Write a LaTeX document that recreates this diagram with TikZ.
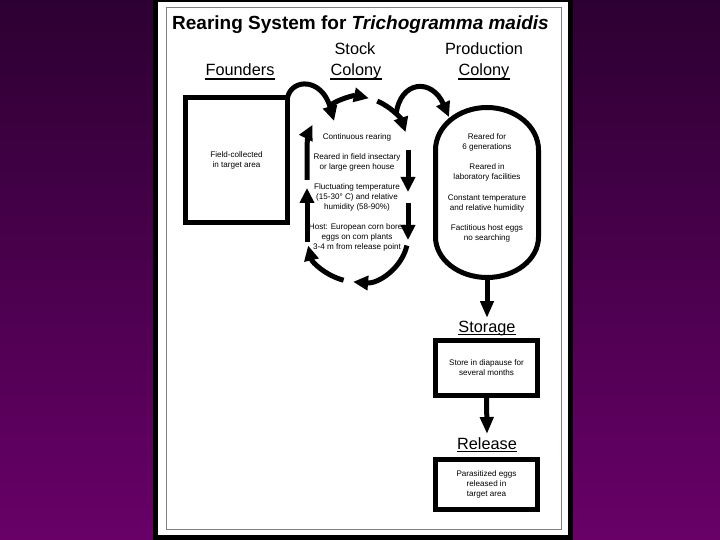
\documentclass[tikz,border=0pt]{standalone}
\usepackage{fontspec}
\setmainfont{Liberation Sans}
\usetikzlibrary{arrows.meta,calc}
\definecolor{bgtop}{RGB}{45,0,50}
\definecolor{bgbot}{RGB}{104,0,104}
\begin{document}
\begin{tikzpicture}[x=1pt,y=-1pt,
  thickline/.style={line width=5pt},
  arr/.style={line width=5pt,-{Triangle[length=15pt,width=14pt]}},
  varr/.style={line width=5pt,-{Triangle[length=17pt,width=13pt]}},
  small/.style={font=\fontsize{8.1}{10}\selectfont, align=center, inner sep=0pt},
  hdr/.style={font=\fontsize{16.3}{19}\selectfont, inner sep=0pt, anchor=base},
  boxed/.style={draw, line width=5pt, outer sep=0pt, inner sep=0pt, font=\fontsize{8.1}{10}\selectfont, align=center},
  uline/.style={line width=1.2pt},
]
\useasboundingbox (0,0) rectangle (720,540);
% background
\shade[top color=bgtop, bottom color=bgbot] (0,0) rectangle (720,540);
\fill[black] (153,0) rectangle (573,540);
\fill[white] (158,2) rectangle (568,535);
\draw[gray, line width=0.8pt] (166,7) rectangle (561,529);

% title
\node[anchor=base west, inner sep=0pt, font=\fontsize{19}{22}\selectfont\bfseries] (title) at (172,30) {Rearing System for \textit{Trichogramma maidis}};

% headers
\node[hdr] (stockA) at (355,55) {Stock};
\node[hdr] (stockB) at (356,76) {Colony};
\node[hdr] (prodA) at (484,55) {Production};
\node[hdr] (prodB) at (484,76) {Colony};
\node[hdr] (found) at (240,76) {Founders};
\foreach \n in {stockB,prodB,found}
  \draw[uline] ($(\n.base west)+(0,3)$) -- ($(\n.base east)+(0,3)$);

% founders box
\node[boxed, minimum width=102pt, minimum height=125pt] (fbox) at (236.5,160) {Field-collected\\in target area};

% stock colony loop
\draw[arr] (357.5,148) ++(238:50.5 and 51) arc[start angle=238,end angle=283,x radius=50.5,y radius=51];
\draw[arr] (357.5,148) ++(293:50.5 and 51) arc[start angle=293,end angle=342,x radius=50.5,y radius=51];
\draw[arr] (408,150) -- (408,192);
\draw[arr] (408,203) -- (408,240);
\draw[arr] (357.5,236) ++(12:50.5 and 46) arc[start angle=12,end angle=95,x radius=50.5,y radius=46];
\draw[arr] (357.5,236) ++(106:50.5 and 46) arc[start angle=106,end angle=168,x radius=50.5,y radius=46];
\draw[arr] (307,242) -- (307,188);
\draw[arr] (307,180) -- (307,148) arc[start angle=180,end angle=207,x radius=50.5,y radius=51];

\node[small] (s1) at (357,137) {Continuous rearing};
\node[small] (s2) at (357,162) {Reared in field insectary\\or large green house};
\node[small] (s3) at (357,197) {Fluctuating temperature\\(15-30\textdegree{} C) and relative\\humidity (58-90\%)};
\node[small] (s4) at (357,237) {Host: European corn borer\\eggs on corn plants\\3-4 m from release point};

% connectors founders -> stock, stock -> production
\coordinate (stkin) at (334,121);
\draw[arr] (fbox.north east) .. controls (292,78) and (322,78) .. (stkin);
\coordinate (stkout) at (396,115);
\coordinate (prodin) at (449,117);
\draw[arr] (stkout) .. controls (400,80) and (432,78) .. (prodin);

% production colony
\draw[thickline] (435.5,150) arc[start angle=180,end angle=360,x radius=51.5,y radius=42.5]
  -- (538.5,237) arc[start angle=0,end angle=180,x radius=51.5,y radius=40.5] -- cycle;
\node[small] (p1) at (487,142.5) {Reared for\\6 generations};
\node[small] (p2) at (487,172.5) {Reared in\\laboratory facilities};
\node[small] (p3) at (487,203.5) {Constant temperature\\and relative humidity};
\node[small] (p4) at (487,233.5) {Factitious host eggs\\no searching};
\coordinate (pbot) at (487,279);

% storage
\node[hdr] (stor) at (487,332) {Storage};
\draw[uline] ($(stor.base west)+(0,2.5)$) -- ($(stor.base east)+(0,2.5)$);
\coordinate (storin) at (487,318);
\draw[varr] (pbot) -- (storin);
\node[boxed, minimum width=102pt, minimum height=55pt] (sbox) at (486.5,368) {Store in diapause for\\several months};

% release
\node[hdr] (rel) at (487,449) {Release};
\draw[uline] ($(rel.base west)+(0,2.5)$) -- ($(rel.base east)+(0,2.5)$);
\coordinate (relin) at (487,434);
\draw[varr] (sbox.south) -- (relin);
\node[boxed, minimum width=102pt, minimum height=50pt] (rbox) at (486.5,484.5) {Parasitized eggs\\released in\\target area};
\end{tikzpicture}
\end{document}
